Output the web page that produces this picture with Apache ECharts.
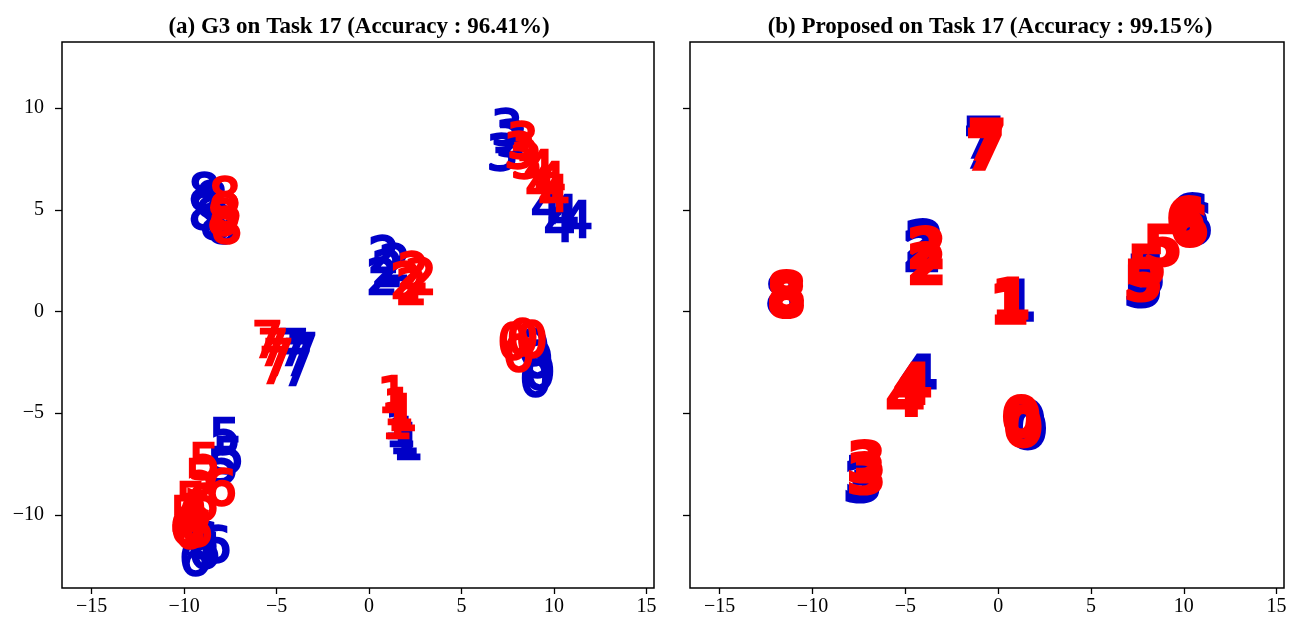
<!DOCTYPE html>
<html>
<head>
<meta charset="utf-8">
<script src="https://cdn.jsdelivr.net/npm/echarts@6/dist/echarts.min.js"></script>
<style>
  html, body { margin: 0; padding: 0; background: #fff; }
  #chart { width: 1295px; height: 622px; }
</style>
</head>
<body>
<div id="chart"></div>
<script>
// tick labels
const xTicks = [-15, -10, -5, 0, 5, 10, 15]
const yTicks = [-10, -5, 0, 5, 10]

// (a) G3 - each point is [x, y, digit]
const aBlue = [
  [-8.9, 5.7, 8], [-8.9, 4.7, 8], [-8.3, 4.2, 8], [-7.9, 4.0, 8], [-8.5, 5.3, 8],
  [-4.1, -2.0, 7], [-3.8, -2.5, 7], [-3.6, -2.2, 7], [-3.9, -3.0, 7],
  [0.8, 2.6, 2], [1.0, 1.9, 2], [0.7, 1.5, 2], [1.4, 2.2, 2],
  [8.9, -2.0, 0], [9.1, -2.6, 0], [9.2, -3.2, 0], [9.0, -3.5, 0],
  [1.6, -5.6, 1], [1.9, -6.3, 1], [2.1, -6.6, 1], [1.7, -6.0, 1],
  [7.45, 8.8, 3], [7.2, 7.6, 3], [7.7, 8.3, 3],
  [9.6, 5.0, 4], [11.25, 4.3, 4], [10.3, 4.1, 4], [10.5, 4.6, 4],
  [-7.8, -6.35, 5], [-7.6, -7.3, 5], [-7.9, -7.8, 5],
  [-9.4, -12.3, 6], [-8.3, -11.7, 6], [-8.9, -12.0, 6], [-9.0, -11.5, 6]
]
const aRed = [
  [-7.8, 5.5, 8], [-7.8, 4.7, 8], [-7.7, 4.0, 8], [-7.9, 4.4, 8],
  [-5.5, -1.6, 7], [-5.2, -2.0, 7], [-4.9, -2.5, 7], [-5.1, -2.9, 7],
  [2.0, 1.3, 2], [2.4, 1.8, 2], [2.8, 1.5, 2], [2.3, 1.0, 2],
  [7.8, -1.7, 0], [8.3, -1.5, 0], [8.8, -1.6, 0], [8.1, -2.3, 0],
  [1.3, -4.3, 1], [1.6, -4.9, 1], [1.5, -5.6, 1], [1.8, -5.2, 1],
  [8.3, 8.2, 3], [8.5, 7.2, 3], [8.15, 7.7, 3],
  [9.2, 6.8, 4], [9.8, 6.2, 4], [10.0, 5.6, 4], [9.3, 6.0, 4],
  [-8.9, -7.6, 5], [-9.1, -8.4, 5], [-9.6, -9.5, 5], [-9.9, -10.2, 5],
  [-9.6, -10.5, 6], [-9.9, -10.8, 6], [-9.3, -10.9, 6], [-8.0, -8.9, 6],
  [-9.4, -10.1, 6], [-9.0, -9.6, 6], [-9.7, -11.0, 6]
]

// (b) Proposed
const bBlue = [
  [-0.76, 8.3, 7], [-0.8, 7.8, 7],
  [-4.0, 3.25, 2], [-4.1, 2.75, 2],
  [-11.5, 0.6, 8],
  [1.0, 0.3, 1],
  [10.3, 4.5, 6], [10.5, 4.1, 6],
  [7.8, 1.0, 5], [7.95, 1.5, 5],
  [-4.3, -3.4, 4],
  [1.6, -6.0, 0], [1.5, -5.6, 0],
  [-7.2, -8.3, 3], [-7.3, -8.6, 3]
]
const bRed = [
  [-0.6, 8.2, 7], [-0.7, 7.7, 7],
  [-3.86, 2.9, 2], [-3.86, 2.1, 2],
  [-11.4, 0.75, 8], [-11.4, 0.5, 8],
  [0.6, 0.15, 1], [0.7, 0.4, 1],
  [10.1, 4.4, 6], [10.3, 4.0, 6],
  [8.86, 3.0, 5], [8.0, 2.0, 5], [7.8, 1.3, 5],
  [-4.6, -3.8, 4], [-5.0, -4.4, 4],
  [1.25, -5.4, 0], [1.35, -5.9, 0],
  [-7.1, -7.6, 3], [-7.1, -8.2, 3]
]

const BLUE = '#0000c8'
const RED = '#ff0000'
const serif = 'Liberation Serif, Times New Roman, serif'
const minus = v => String(v).replace('-', '\u2212')

const xAxisOf = gi => ({
  type: 'value', gridIndex: gi, min: -16.6, max: 15.4,
  axisLine: { show: false, onZero: false },
  splitLine: { show: false },
  axisTick: { customValues: xTicks, length: 6, inside: false, lineStyle: { color: '#000', width: 1.3 } },
  axisLabel: { customValues: xTicks, formatter: minus, fontFamily: serif, fontSize: 20, color: '#000', margin: 9 }
})
const yAxisOf = (gi, showLabel) => ({
  type: 'value', gridIndex: gi, min: -13.6, max: 13.25,
  axisLine: { show: false, onZero: false },
  splitLine: { show: false },
  axisTick: { customValues: yTicks, length: 7, inside: false, lineStyle: { color: '#000', width: 1.3 } },
  axisLabel: { show: showLabel, customValues: yTicks, formatter: minus, fontFamily: serif, fontSize: 20, color: '#000', margin: 18 }
})

const digitSeries = (data, color, gi, size, weight, border) => ({
  type: 'scatter',
  xAxisIndex: gi, yAxisIndex: gi,
  data: data,
  symbol: 'circle', symbolSize: 1,
  itemStyle: { color: 'rgba(0,0,0,0)', opacity: 1 },
  silent: true,
  label: {
    show: true, position: 'inside', opacity: 1,
    formatter: p => String(p.value[2]),
    fontFamily: 'DejaVu Sans', fontSize: size, fontWeight: weight,
    color: color, textBorderColor: color, textBorderWidth: border
  }
})

const chart = echarts.init(document.getElementById('chart'), null, { renderer: 'canvas' })
chart.setOption({
  animation: false,
  backgroundColor: '#fff',
  title: [
    { text: '(a) G3 on Task 17 (Accuracy : 96.41%)', left: 354, top: 11, textAlign: 'center',
      textStyle: { fontFamily: serif, fontSize: 23, fontWeight: 'bold', color: '#000' } },
    { text: '(b) Proposed on Task 17 (Accuracy : 99.15%)', left: 985, top: 11, textAlign: 'center',
      textStyle: { fontFamily: serif, fontSize: 23, fontWeight: 'bold', color: '#000' } }
  ],
  grid: [
    { left: 62, top: 42, width: 592, height: 546, show: true, borderColor: '#000', borderWidth: 1.5, backgroundColor: '#fff' },
    { left: 690, top: 42, width: 594, height: 546, show: true, borderColor: '#000', borderWidth: 1.5, backgroundColor: '#fff' }
  ],
  xAxis: [xAxisOf(0), xAxisOf(1)],
  yAxis: [yAxisOf(0, true), yAxisOf(1, false)],
  series: [
    digitSeries(aBlue, BLUE, 0, 50, 'normal', 2.5),
    digitSeries(aRed, RED, 0, 50, 'normal', 2.5),
    digitSeries(bBlue, BLUE, 1, 56, 'bold', 3),
    digitSeries(bRed, RED, 1, 56, 'bold', 3)
  ]
})
</script>
</body>
</html>
